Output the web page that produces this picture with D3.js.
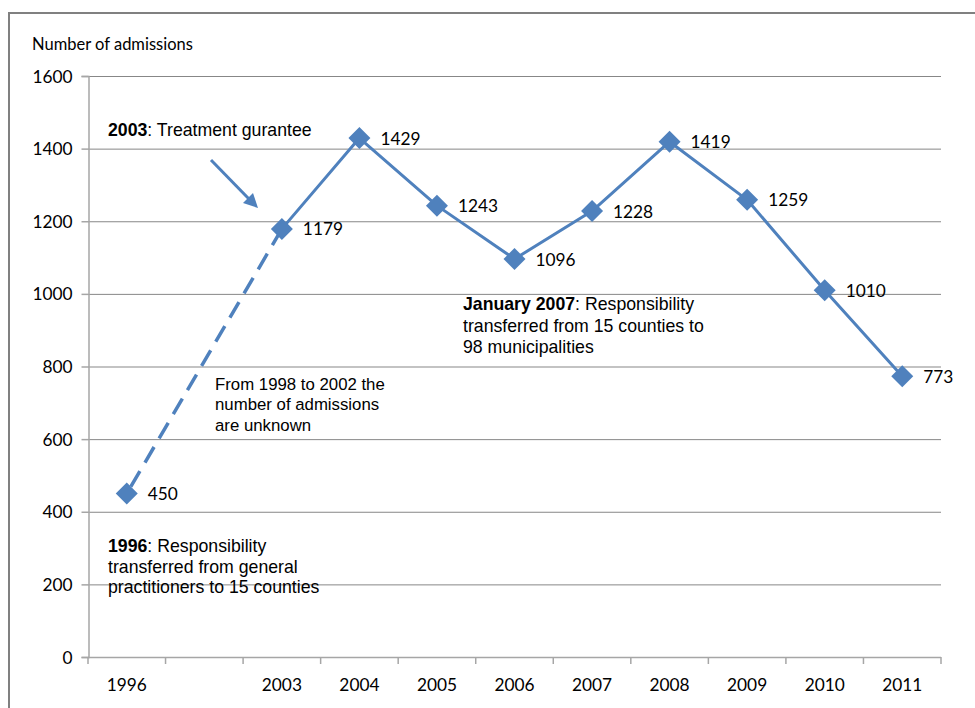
<!DOCTYPE html>
<html>
<head>
<meta charset="utf-8">
<script src="https://cdn.jsdelivr.net/npm/d3@7"></script>
<style>
  html, body { margin: 0; padding: 0; background: #fff; }
  svg { display: block; }
</style>
</head>
<body>
<svg id="chart" width="975" height="708"></svg>
<script>
const categories = ["1996", "", "2003", "2004", "2005", "2006", "2007", "2008", "2009", "2010", "2011"];
const admissions = [450, null, 1179, 1429, 1243, 1096, 1228, 1419, 1259, 1010, 773];
const yTicks = [0, 200, 400, 600, 800, 1000, 1200, 1400, 1600];
const yTitle = "Number of admissions";
const noteBold = ["2003", "January 2007", "", "1996"];
const noteLines = [
  [": Treatment gurantee"],
  [": Responsibility", "transferred from 15 counties to", "98 municipalities"],
  ["From 1998 to 2002 the", "number of admissions", "are unknown"],
  [": Responsibility", "transferred from general", "practitioners to 15 counties"]
];

// layout (positions / sizes) kept separate from data
const noteLayout = [
  { x: 108, y: 130, size: 17.7, lh: 21 },
  { x: 463, y: 304, size: 17.7, lh: 21.5 },
  { x: 215, y: 384, size: 16.8, lh: 20.5 },
  { x: 108, y: 546, size: 17.7, lh: 20.5 }
];

const svg = d3.select("#chart");
const blue = "#4F81BD";
const pLeft = 88, pRight = 941, pTop = 76, pBottom = 657;
const numFont = "Lato, 'Open Sans', sans-serif";

// outer frame
svg.append("rect").attr("x", 9).attr("y", 13).attr("width", 980).attr("height", 710)
  .attr("fill", "none").attr("stroke", "#808080").attr("stroke-width", 2);

const x = d3.scaleBand().domain(d3.range(categories.length)).range([pLeft, pRight]);
const y = d3.scaleLinear().domain([0, 1600]).range([pBottom, pTop]);

// gridlines
svg.append("g").selectAll("line").data(yTicks.filter(d => d > 0)).join("line")
  .attr("x1", pLeft).attr("x2", pRight)
  .attr("y1", d => y(d) + 0.5).attr("y2", d => y(d) + 0.5)
  .attr("stroke", "#878787").attr("stroke-width", 1);

// y axis
const yAxis = svg.append("g").attr("transform", `translate(${pLeft + 0.5},0)`)
  .call(d3.axisLeft(y).tickValues(yTicks).tickFormat(d3.format("d")).tickSize(7).tickPadding(9));
yAxis.select(".domain").attr("stroke", "#a6a6a6").attr("stroke-width", 1.5);
yAxis.selectAll(".tick line").attr("stroke", "#a6a6a6").attr("stroke-width", 1.5);
yAxis.selectAll(".tick text").attr("font-family", numFont)
  .attr("font-size", 17.3).attr("fill", "#000").attr("dy", "0.35em");

// x axis line
svg.append("line").attr("x1", pLeft).attr("x2", pRight)
  .attr("y1", pBottom + 0.5).attr("y2", pBottom + 0.5)
  .attr("stroke", "#a6a6a6").attr("stroke-width", 1.5);
// x ticks at band boundaries
const bounds = d3.range(categories.length + 1).map(i => i < categories.length ? x(i) : x(categories.length - 1) + x.bandwidth());
svg.append("g").selectAll("line").data(bounds).join("line")
  .attr("x1", d => d).attr("x2", d => d)
  .attr("y1", pBottom).attr("y2", pBottom + 7)
  .attr("stroke", "#a6a6a6").attr("stroke-width", 1.5);
svg.append("g").selectAll("text").data(categories).join("text")
  .attr("x", (d, i) => x(i) + x.bandwidth() / 2)
  .attr("y", 685).attr("dy", "0.35em")
  .attr("text-anchor", "middle")
  .attr("font-family", numFont).attr("font-size", 17.3)
  .text(d => d);

// y title
svg.append("text").attr("x", 32).attr("y", 44).attr("dy", "0.35em")
  .attr("font-family", numFont).attr("font-size", 16.5)
  .text(yTitle);

// series
const pts = admissions.map((v, i) => ({ i, v })).filter(d => d.v !== null);
const cx = d => x(d.i) + x.bandwidth() / 2;
const line = d3.line().x(cx).y(d => y(d.v));
svg.append("path").datum(pts.slice(0, 2)).attr("d", line)
  .attr("fill", "none").attr("stroke", blue).attr("stroke-width", 3.5)
  .attr("stroke-dasharray", "18,10").attr("stroke-dashoffset", -8);
svg.append("path").datum(pts.slice(1)).attr("d", line)
  .attr("fill", "none").attr("stroke", blue).attr("stroke-width", 3)
  .attr("stroke-linejoin", "round");

const ds = 11;
svg.append("g").selectAll("path").data(pts).join("path")
  .attr("d", d => `M${cx(d)},${y(d.v) - ds}L${cx(d) + ds},${y(d.v)}L${cx(d)},${y(d.v) + ds}L${cx(d) - ds},${y(d.v)}Z`)
  .attr("fill", blue);

svg.append("g").selectAll("text").data(pts).join("text")
  .attr("x", d => cx(d) + 21).attr("y", d => y(d.v)).attr("dy", "0.38em")
  .attr("font-family", numFont).attr("font-size", 17.3)
  .attr("fill", "#000")
  .text(d => d.v);

// arrow
svg.append("line").attr("x1", 211).attr("y1", 160).attr("x2", 249).attr("y2", 199)
  .attr("stroke", blue).attr("stroke-width", 3);
svg.append("path").attr("d", "M258,208 L243,203 L253,193 Z").attr("fill", blue);

// annotations
const ann = svg.append("g").attr("font-family", "'Liberation Sans', Arial, sans-serif").attr("fill", "#000");
noteLines.forEach((lines, n) => {
  const L = noteLayout[n];
  lines.forEach((ln, k) => {
    const t = ann.append("text").attr("x", L.x).attr("y", L.y + k * L.lh).attr("dy", "0.35em")
      .attr("font-size", L.size);
    if (k === 0 && noteBold[n]) {
      t.append("tspan").attr("font-weight", "bold").text(noteBold[n]);
    }
    t.append("tspan").text(ln);
  });
});
</script>
</body>
</html>
